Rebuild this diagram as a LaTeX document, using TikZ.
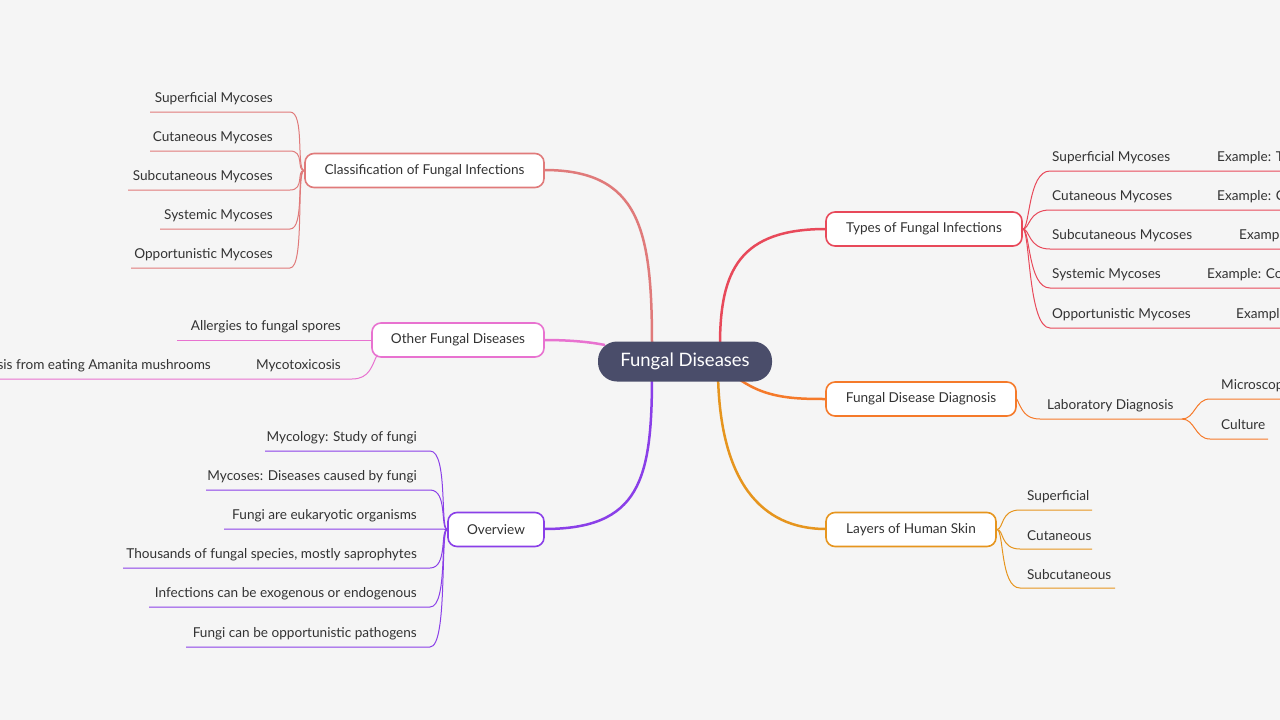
\documentclass[tikz,border=0pt]{standalone}
\usepackage{fontspec}
\setmainfont{Lato}
\begin{document}
\begin{tikzpicture}[x=1pt,y=-1pt,
  every node/.style={font=\fontsize{13.6}{15}\selectfont, text=black!80},
  mainbox/.style={draw, line width=1.6pt, rounded corners=9pt, fill=white, minimum height=34pt, inner xsep=0pt},
  lf/.style={inner sep=0pt},
  ln/.style={line width=1pt}]
\definecolor{bg}{HTML}{F5F5F5}
\definecolor{cA}{HTML}{E07A7A}
\definecolor{cB}{HTML}{E8495A}
\definecolor{cC}{HTML}{E872D0}
\definecolor{cD}{HTML}{F57A2A}
\definecolor{cE}{HTML}{E6951E}
\definecolor{cF}{HTML}{8A3FE8}
\definecolor{ctr}{HTML}{4A4D6A}
\useasboundingbox (0,0) rectangle (1280,720);
\clip (0,0) rectangle (1280,720);
\fill[bg] (0,0) rectangle (1280,720);

% main branch curves
\draw[cA,line width=2.5pt] (652,345) .. controls (652,230) and (640,170) .. (544,170);
\draw[cB,line width=2.5pt] (720,345) .. controls (720,270) and (740,229) .. (826,229);
\draw[cC,line width=2.5pt] (605,345) .. controls (590,342) and (570,340) .. (544,340);
\draw[cD,line width=2.5pt] (730,372) .. controls (760,398) and (790,399) .. (826,399);
\draw[cE,line width=2.5pt] (718,375) .. controls (720,480) and (760,529) .. (826,529);
\draw[cF,line width=2.5pt] (652,375) .. controls (652,480) and (640,529) .. (544,529);

% center
\node[fill=ctr, rounded corners=19pt, minimum width=174pt, minimum height=40pt, text=white, font=\fontsize{18.5}{20}\selectfont] (c) at (685,361.5) {Fungal Diseases};

% branch nodes
\node[mainbox, draw=cA, minimum width=239pt] (cls) at (424.5,170.5) {Classification of Fungal Infections};
\node[mainbox, draw=cB, minimum width=196pt] (typ) at (924,229) {Types of Fungal Infections};
\node[mainbox, draw=cC, minimum width=172pt] (oth) at (458,340) {Other Fungal Diseases};
\node[mainbox, draw=cD, minimum width=190pt] (dia) at (921,399) {Fungal Disease Diagnosis};
\node[mainbox, draw=cE, minimum width=170pt] (lay) at (911,529.5) {Layers of Human Skin};
\node[mainbox, draw=cF, minimum width=96pt] (ovw) at (496,529.5) {Overview};

% Classification leaves
\foreach \t/\y/\xl [count=\i] in {Superficial Mycoses/98.5/150, Cutaneous Mycoses/137.5/150, Subcutaneous Mycoses/176.5/128, Systemic Mycoses/215.5/160, Opportunistic Mycoses/254.5/131}{
  \node[lf,anchor=east] (cl\i) at (273,\y) {\t};
  \draw[cA,ln] (cls.west) .. controls (296,170) and (305,\y+13.5) .. (290,\y+13.5) -- (\xl,\y+13.5);
}
% Overview leaves
\foreach \t/\y/\xl [count=\i] in {Mycology: Study of fungi/437.5/265, Mycoses: Diseases caused by fungi/476.5/206, Fungi are eukaryotic organisms/515.5/224, {Thousands of fungal species, mostly saprophytes}/554.5/123, Infections can be exogenous or endogenous/593.5/149, Fungi can be opportunistic pathogens/633.5/186}{
  \node[lf,anchor=east] (ov\i) at (417,\y) {\t};
  \draw[cF,ln] (ovw.west) .. controls (440,529) and (448,\y+13.5) .. (430,\y+13.5) -- (\xl,\y+13.5);
}
% Other leaves
\node[lf,anchor=east] (o1) at (341,326.5) {Allergies to fungal spores};
\draw[cC,ln] (oth.west) -- (177,340);
\node[lf,anchor=east] (o2) at (341,365.5) {Mycotoxicosis};
\draw[cC,ln] (oth.south west) ++(6,-3) .. controls (372,365) and (370,379) .. (352,379) -- (0,379);
\node[lf,anchor=east] (o3) at (211,365.5) {sis from eating Amanita mushrooms};

% Types leaves
\foreach \t/\e/\ex/\y [count=\i] in {Superficial Mycoses/Example: Tinea/1217/157.5, Cutaneous Mycoses/Example: Candida/1217/196.5, Subcutaneous Mycoses/Example/1239/235.5, Systemic Mycoses/Example: Coccidioides/1207/274.5, Opportunistic Mycoses/Example/1236/314.5}{
  \node[lf,anchor=west] (t\i) at (1052,\y) {\t};
  \node[lf,anchor=west] (te\i) at (\ex,\y) {\e};
  \draw[cB,ln] (typ.east) .. controls (1030,229) and (1028,\y+13.5) .. (1050,\y+13.5) -- (1280,\y+13.5);
}
% Diagnosis
\node[lf,anchor=west] (d1) at (1047,405.5) {Laboratory Diagnosis};
\draw[cD,ln] (dia.east) .. controls (1022,410) and (1025,419) .. (1040,419) -- (1182,419);
\node[lf,anchor=west] (d2) at (1221,385.5) {Microscopy};
\node[lf,anchor=west] (d3) at (1221,424.5) {Culture};
\draw[cD,ln] (1182,419) .. controls (1195,419) and (1195,399) .. (1210,399) -- (1280,399);
\draw[cD,ln] (1182,419) .. controls (1195,419) and (1195,439) .. (1210,439) -- (1268,439);

% Layers
\foreach \t/\y/\xr [count=\i] in {Superficial/496.5/1092, Cutaneous/535.5/1092, Subcutaneous/574.5/1115}{
  \node[lf,anchor=west] (l\i) at (1027,\y) {\t};
  \draw[cE,ln] (lay.east) .. controls (1004,529) and (1000,\y+13.5) .. (1020,\y+13.5) -- (\xr,\y+13.5);
}
\end{tikzpicture}
\end{document}
